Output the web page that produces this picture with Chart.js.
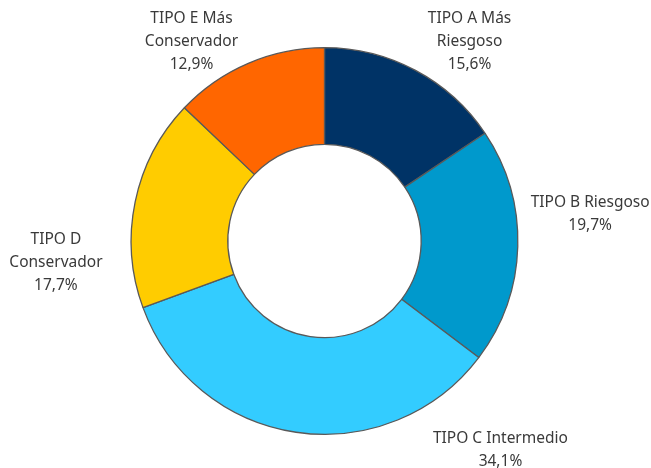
<!DOCTYPE html>
<html>
<head>
<meta charset="utf-8">
<script src="https://cdn.jsdelivr.net/npm/chart.js@4/dist/chart.umd.min.js"></script>
<style>
	html, body { margin: 0; padding: 0; background: #fff; }
	#wrap { width: 651px; height: 468px; }
</style>
</head>
<body>
<div id="wrap"><canvas id="doughChart" width="651" height="468"></canvas></div>
<script>
// data
var categories = ["TIPO A Más Riesgoso", "TIPO B Riesgoso", "TIPO C Intermedio", "TIPO D Conservador", "TIPO E Más Conservador"];
var labelLines = [["TIPO A Más", "Riesgoso"], ["TIPO B Riesgoso"], ["TIPO C Intermedio"], ["TIPO D", "Conservador"], ["TIPO E Más", "Conservador"]];
var shares = [15.6, 19.7, 34.1, 17.7, 12.9];
var colors = ['#003366', '#0099CC', '#33CCFF', '#FFCC00', '#FF6600'];

// where each label sits, in units of the outer radius, from the centre
var labelOffsets = [[0.75, -1.03], [1.374, -0.137], [0.91, 1.082], [-1.389, 0.113], [-0.688, -1.03]];

const outsideLabels = {
	id: 'outsideLabels',
	afterDatasetsDraw: function(chart) {
		var ctx = chart.ctx;
		var meta = chart.getDatasetMeta(0);
		ctx.save();
		ctx.font = '15.5px "Noto Sans"';
		ctx.fillStyle = '#3a3a3a';
		ctx.textAlign = 'center';
		ctx.textBaseline = 'middle';
		meta.data.forEach(function(arc, i) {
			var r = arc.outerRadius;
			var x = arc.x + labelOffsets[i][0] * r;
			var y = arc.y + labelOffsets[i][1] * r;
			var lines = labelLines[i].concat([shares[i].toFixed(1).replace('.', ',') + '%']);
			var lh = 23;
			var top = y - (lines.length - 1) * lh / 2;
			for (var j = 0; j < lines.length; j++) {
				ctx.fillText(lines[j], x, top + j * lh);
			}
		});
		ctx.restore();
	}
};

var myChart = new Chart(document.getElementById('doughChart'), {
	type: 'doughnut',
	data: {
		labels: categories,
		datasets: [{
			data: shares,
			backgroundColor: colors,
			borderColor: '#595959',
			borderWidth: 1.3
		}]
	},
	options: {
		responsive: false,
		animation: false,
		cutout: '50%',
		layout: { padding: { top: 47, bottom: 33, left: 0, right: 2 } },
		plugins: {
			legend: { display: false },
			tooltip: { enabled: false }
		}
	},
	plugins: [outsideLabels]
});
</script>
</body>
</html>
